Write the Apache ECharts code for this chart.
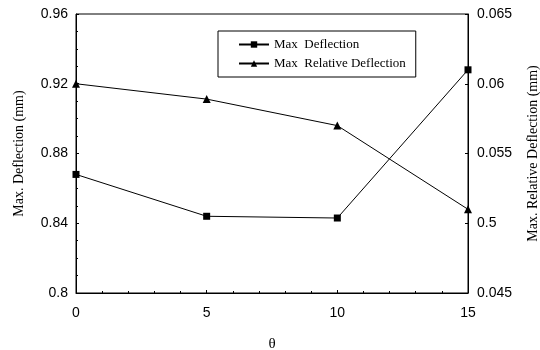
<!DOCTYPE html>
<html>
<head>
<meta charset="utf-8">
<script src="https://cdn.jsdelivr.net/npm/echarts@6/dist/echarts.min.js"></script>
<style>
  html, body { margin: 0; padding: 0; background: #fff; }
  #chart { width: 540px; height: 350px; }
</style>
</head>
<body>
<div id="chart"></div>
<script>
// x values (theta)
const theta = [0, 5, 10, 15];
// Max Deflection, left axis (mm)
const maxDeflection = [0.868, 0.844, 0.843, 0.928];
// Max Relative Deflection, right axis
const maxRelDeflection = [0.0600, 0.0589, 0.0570, 0.0510];
// right axis tick labels as printed (0.05 is printed "0.5" in the original)
const rightTickLabels = ['0.045', '0.5', '0.055', '0.06', '0.065'];

const serif = '"Liberation Serif", "DejaVu Serif", serif';
const sans = '"Liberation Sans", Arial, sans-serif';

const myChart = echarts.init(document.getElementById('chart'));

const option = {
  animation: false,
  backgroundColor: '#fff',
  grid: {
    left: 76, right: 72, top: 14, bottom: 57,
    outerBoundsMode: 'none', containLabel: false,
    show: true, borderColor: '#000', borderWidth: 1
  },
  legend: {
    left: 218, top: 31, width: 225, height: 46,
    orient: 'vertical',
    itemGap: 6,
    padding: [7, 10, 7, 20],
    borderColor: '#000', borderWidth: 1,
    backgroundColor: '#fff',
    itemWidth: 30, itemHeight: 8,
    textStyle: { fontFamily: serif, fontSize: 13, color: '#000' },
    data: ['Max  Deflection', 'Max  Relative Deflection']
  },
  xAxis: {
    type: 'value', min: 0, max: 15, interval: 5,
    name: 'θ', nameLocation: 'middle', nameGap: 44,
    nameTextStyle: { fontFamily: serif, fontSize: 15, color: '#000' },
    axisLine: { lineStyle: { color: '#000' } },
    axisTick: { inside: true, length: 3, lineStyle: { color: '#000' } },
    minorTick: { show: true, splitNumber: 5, length: 2, lineStyle: { color: '#000' } },
    splitLine: { show: false },
    axisLabel: { fontFamily: sans, fontSize: 14, color: '#000', margin: 13 }
  },
  yAxis: [
    {
      type: 'value', min: 0.8, max: 0.96, interval: 0.04,
      name: 'Max. Deflection (mm)', nameLocation: 'middle', nameGap: 50,
      nameTextStyle: { fontFamily: serif, fontSize: 14, color: '#000' },
      axisLine: { show: true, lineStyle: { color: '#000' } },
      axisTick: { inside: true, length: 3, lineStyle: { color: '#000' } },
      minorTick: { show: true, splitNumber: 4, length: 2, lineStyle: { color: '#000' } },
      splitLine: { show: false },
      axisLabel: {
        fontFamily: sans, fontSize: 14, color: '#000', margin: 8,
        formatter: v => String(Number(v.toFixed(2)))
      }
    },
    {
      type: 'value', min: 0.045, max: 0.065, interval: 0.005,
      name: 'Max. Relative Deflection (mm)', nameLocation: 'middle', nameGap: 58,
      nameRotate: 90,
      nameTextStyle: { fontFamily: serif, fontSize: 14, color: '#000' },
      axisLine: { show: true, lineStyle: { color: '#000' } },
      axisTick: { inside: true, length: 3, lineStyle: { color: '#000' } },
      splitLine: { show: false },
      axisLabel: {
        fontFamily: sans, fontSize: 14, color: '#000', margin: 9,
        formatter: v => rightTickLabels[Math.round((v - 0.045) / 0.005)] || ''
      }
    }
  ],
  series: [
    {
      name: 'Max  Deflection', type: 'line', yAxisIndex: 0,
      data: theta.map((t, i) => [t, maxDeflection[i]]),
      symbol: 'rect', symbolSize: 7,
      itemStyle: { color: '#000' },
      lineStyle: { color: '#000', width: 1 }
    },
    {
      name: 'Max  Relative Deflection', type: 'line', yAxisIndex: 1,
      data: theta.map((t, i) => [t, maxRelDeflection[i]]),
      symbol: 'triangle', symbolSize: 8,
      itemStyle: { color: '#000' },
      lineStyle: { color: '#000', width: 1 }
    }
  ]
};
myChart.setOption(option);
</script>
</body>
</html>
